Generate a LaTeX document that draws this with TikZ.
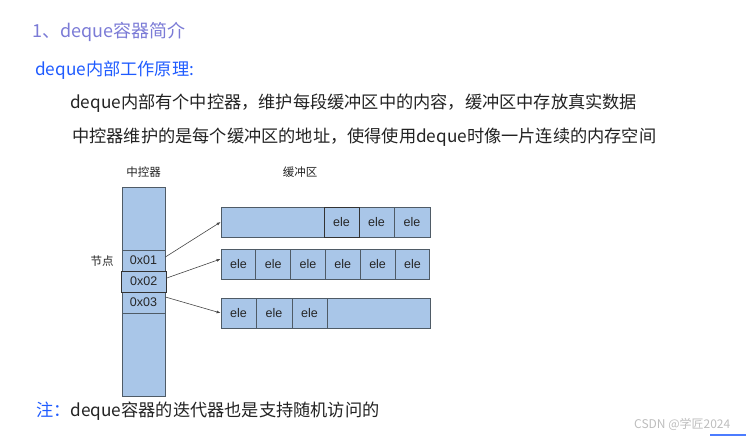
\documentclass[tikz,border=0pt]{standalone}
\usepackage{fontspec}
\setmainfont{Liberation Sans}
\newfontfamily\cjk{Noto Sans CJK SC}
\usetikzlibrary{arrows.meta}
\definecolor{DequeFill}{HTML}{A9C6E8}
\definecolor{DequeEdge}{HTML}{4F5B66}
\definecolor{TitlePurple}{HTML}{7B7BD6}
\definecolor{NoteBlue}{HTML}{1F5BFF}
\definecolor{MarkGray}{HTML}{BDBDBD}
\definecolor{ArrowInk}{HTML}{454545}
\definecolor{TextInk}{HTML}{222222}

\begin{document}
\begin{tikzpicture}[x=1pt,y=-1pt,>=Latex]
\tikzset{
  line/.style={anchor=west,inner sep=0pt,font=\cjk\fontsize{17.2}{19}\selectfont,text=TextInk},
  small/.style={inner sep=0pt,font=\cjk\fontsize{11.5}{13}\selectfont,text=TextInk},
  slot/.style={draw=DequeEdge,line width=0.7pt,fill=DequeFill,inner sep=0pt,minimum width=43pt,minimum height=21pt,font=\fontsize{12.5}{14}\selectfont,text=black!85},
  bufcell/.style={draw=DequeEdge,line width=0.7pt,fill=DequeFill,inner sep=0pt,minimum height=30pt,font=\fontsize{12.5}{14}\selectfont,text=black!85},
  link/.style={ArrowInk,line width=0.6pt,-{Latex[length=4pt,width=3pt]}}
}
\useasboundingbox (0,0) rectangle (746,436);

% headings
\node[line,font=\cjk\fontsize{18}{20}\selectfont,text=TitlePurple] (title) at (32,32) {1、deque容器简介};
\node[line,text=NoteBlue] (intro) at (35,70) {deque内部工作原理:};
\node[line] (l1) at (70,103) {deque内部有个中控器，维护每段缓冲区中的内容，缓冲区中存放真实数据};
\node[line] (l2) at (72,137) {中控器维护的是每个缓冲区的地址，使得使用deque时像一片连续的内存空间};

% central map
\node[small] (maplabel) at (143.5,172) {中控器};
\node[small] (buflabel) at (300,172) {缓冲区};
\node[small] (nodelabel) at (102,261) {节点};
\node[slot,minimum height=63pt] (ctop) at (143.5,218.5) {};
\node[slot] (n1) at (143.5,260.5) {0x01};
\node[slot,minimum height=83pt] (cbot) at (143.5,354.5) {};
\node[slot] (n3) at (143.5,302.5) {0x03};
\node[slot,minimum width=45pt,line width=1pt,draw=black!80] (n2) at (143.8,281.5) {0x02};

% buffers
\node[bufcell,minimum width=103pt] (r1a) at (272.5,222) {};
\node[bufcell,minimum width=35pt] (r1c) at (376.5,222) {ele};
\node[bufcell,minimum width=36pt] (r1d) at (412,222) {ele};
\node[bufcell,minimum width=35pt,line width=1pt,draw=black!80] (r1b) at (341.5,222) {ele};

\foreach \i in {0,...,5}
  \node[bufcell,minimum width=34.8pt] (r2-\i) at ({238.4+34.8*\i},264.5) {ele};

\node[bufcell,minimum width=35pt] (r3a) at (238.5,313) {ele};
\node[bufcell,minimum width=36pt] (r3b) at (274,313) {ele};
\node[bufcell,minimum width=35pt] (r3c) at (309.5,313) {ele};
\node[bufcell,minimum width=103pt] (r3d) at (378.5,313) {};

\draw[link] ([yshift=3.5pt]n1.east) -- (r1a.west);
\draw[link] ([yshift=3.5pt]n2.east) -- ([yshift=5.5pt]r2-0.west);
\draw[link] ([yshift=5.5pt]n3.east) -- (r3a.west);

% note
\node[line] (note) at (36,411) {\textcolor{NoteBlue}{注：}deque容器的迭代器也是支持随机访问的};
\node[anchor=west,inner sep=0pt,font=\cjk\fontsize{12}{14}\selectfont,text=MarkGray] (mark) at (634,424) {CSDN @学匠2024};
\fill[NoteBlue!80!white] (710,433.5) rectangle (746,436);
\end{tikzpicture}
\end{document}
